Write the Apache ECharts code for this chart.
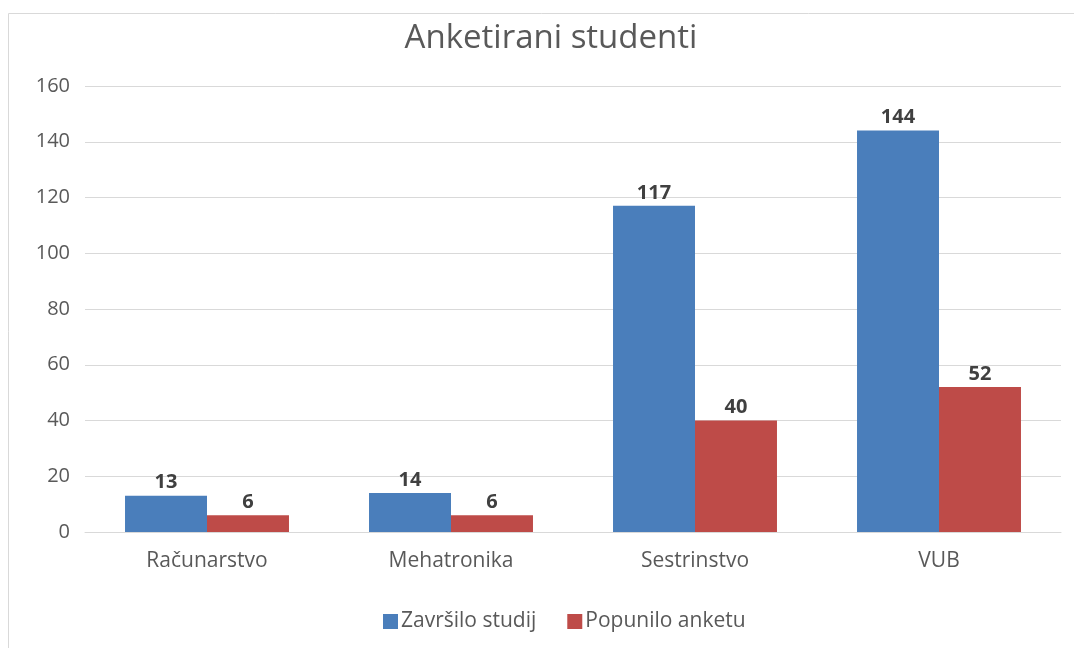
<!DOCTYPE html>
<html><head><meta charset="utf-8">
<script src="https://cdn.jsdelivr.net/npm/echarts@6/dist/echarts.min.js"></script>
<style>html,body{margin:0;padding:0;background:#fff}#c{width:1074px;height:648px}</style>
</head><body><div id="c"></div>
<script>
const categories = ['Računarstvo', 'Mehatronika', 'Sestrinstvo', 'VUB'];
const seriesNames = ['Završilo studij', 'Popunilo anketu'];
const zavrsilo = [13, 14, 117, 144];
const popunilo = [6, 6, 40, 52];
const yTicks = {min: 0, max: 160, interval: 20};
const font = '"Open Sans", "Noto Sans", sans-serif';
const chart = echarts.init(document.getElementById('c'), null, {renderer: 'canvas'});
const lbl = {show: true, position: 'top', color: '#404040', fontWeight: 'bold', fontSize: 20, fontFamily: font, distance: 3};
chart.setOption({
  animation: false,
  graphic: [{type: 'rect', shape: {x: 8.5, y: 13.5, width: 1080, height: 660}, style: {fill: 'none', stroke: '#d9d9d9', lineWidth: 1}, silent: true}],
  title: {text: 'Anketirani studenti', left: 546, top: 17, textAlign: 'center',
    textStyle: {fontFamily: font, fontWeight: 'normal', fontSize: 33, color: '#595959'}},
  legend: {left: 378, top: 606, itemWidth: 15, itemHeight: 15, itemGap: 31,
    textStyle: {fontFamily: font, fontSize: 21, color: '#595959', padding: [0,0,0,-2]},
    data: seriesNames, icon: 'rect'},
  grid: {left: 85, right: 13, top: 86, bottom: 116, containLabel: false},
  xAxis: {type: 'category', data: categories,
    axisLine: {lineStyle: {color: '#d9d9d9'}}, axisTick: {show: false},
    axisLabel: {fontFamily: font, fontSize: 21, color: '#595959', margin: 19}},
  yAxis: {type: 'value', min: yTicks.min, max: yTicks.max, interval: yTicks.interval,
    axisLine: {show: false}, axisTick: {show: false},
    splitLine: {lineStyle: {color: '#d9d9d9'}},
    axisLabel: {fontFamily: font, fontSize: 20, color: '#595959', margin: 15}},
  series: [
    {name: seriesNames[0], type: 'bar', data: zavrsilo, barWidth: '33.6%', barGap: '0%', itemStyle: {color: '#4A7EBB'}, label: lbl},
    {name: seriesNames[1], type: 'bar', data: popunilo, barWidth: '33.6%', itemStyle: {color: '#BE4B48'}, label: lbl}
  ]
});
</script></body></html>
